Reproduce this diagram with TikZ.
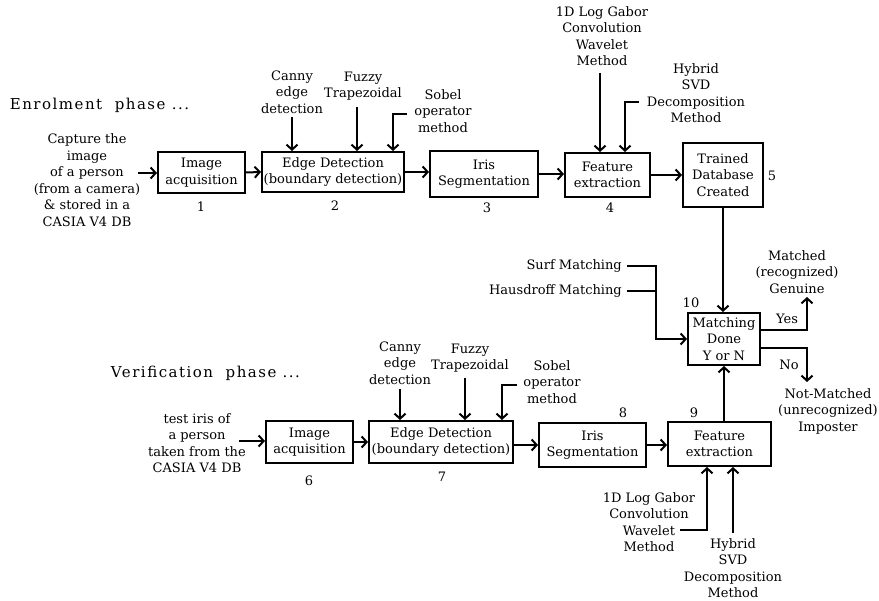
\documentclass[tikz,border=0pt]{standalone}
\usepackage{fontspec}
\setmainfont{DejaVu Serif}
\newfontfamily\phasefont[LetterSpace=10]{DejaVu Serif}
\usetikzlibrary{arrows.meta}
\begin{document}
\begin{tikzpicture}[x=1pt,y=-1pt,
  every node/.style={font=\fontsize{13}{16.5}\selectfont, inner sep=0pt},
  blk/.style={draw, line width=2pt, align=center},
  lbl/.style={align=center},
  num/.style={},
  link/.style={line width=2pt},
  arr/.style={line width=2pt, -{Straight Barb[length=5pt,width=11pt,line width=2pt]}}]
\useasboundingbox (0,0) rectangle (879,601);

% ---------- enrolment phase ----------
\node[font=\phasefont\fontsize{15}{18}\selectfont] (enr) at (99.5,105) {Enrolment\ \ phase ...};

\node[blk, minimum width=87pt, minimum height=41pt] (b1) at (201.5,172.5) {Image\\acquisition};
\node[blk, minimum width=142pt, minimum height=40pt] (b2) at (333,172) {Edge Detection\\(boundary detection)};
\node[blk, minimum width=108pt, minimum height=46pt] (b3) at (484,174) {Iris\\Segmentation};
\node[blk, minimum width=85pt, minimum height=44pt] (b4) at (607.5,175) {Feature\\extraction};
\node[blk, minimum width=80pt, minimum height=64pt] (b5) at (723,175) {Trained\\Database\\Created};

\node[num] (n1) at (201,207) {1};
\node[num] (n2) at (335,206) {2};
\node[num] (n3) at (487,208) {3};
\node[num] (n4) at (610,208) {4};
\node[num] (n5) at (772,176) {5};

\node[lbl] (cap) at (87,180) {Capture the\\image\\of a person\\(from a camera)\\\& stored in a\\CASIA V4 DB};
\node[lbl] (cny1) at (292,92) {Canny\\edge\\detection};
\node[lbl] (fz1) at (363,86) {Fuzzy\\Trapezoidal};
\node[lbl] (sb1) at (443,111) {Sobel\\operator\\method};
\node[lbl] (gb1) at (602,36) {1D Log Gabor\\Convolution\\Wavelet\\Method};
\node[lbl] (hy1) at (696,93) {Hybrid\\SVD\\Decomposition\\Method};

\coordinate (capo) at (138,173);
\coordinate (cny1o) at (292,117);
\coordinate (fz1o) at (357,107);
\coordinate (sb1o) at (407,114);
\coordinate (sb1k) at (393,114);
\coordinate (gb1o) at (600,73);
\coordinate (hy1o) at (639,102);
\coordinate (hy1k) at (625,102);

\draw[arr] (capo) -- (capo -| b1.west);
\draw[arr] (b1.east) -- (b2.west);
\draw[arr] (b2.east) -- (b2.east -| b3.west);
\draw[arr] (b3.east) -- (b3.east -| b4.west);
\draw[arr] (b4.east) -- (b4.east -| b5.west);
\draw[arr] (cny1o) -- (cny1o |- b2.north);
\draw[arr] (fz1o) -- (fz1o |- b2.north);
\draw[arr] (sb1o) -- (sb1k) -- (sb1k |- b2.north);
\draw[arr] (gb1o) -- (gb1o |- b4.north);
\draw[arr] (hy1o) -- (hy1k) -- (hy1k |- b4.north);

% ---------- matching ----------
\node[blk, minimum width=72pt, minimum height=52pt] (b10) at (724,339) {Matching\\Done\\Y or N};
\node[num] (n10) at (691,303) {10};
\node[lbl, anchor=east] (surf) at (622,266) {Surf Matching};
\node[lbl, anchor=east] (haus) at (622,291) {Hausdroff Matching};
\node[lbl] (mt) at (797,272) {Matched\\(recognized)\\Genuine};
\node[lbl] (nmt) at (828,411) {Not-Matched\\(unrecognized)\\Imposter};
\node[lbl] (yes) at (787,319) {Yes};
\node[lbl] (no) at (789,365) {No};

\coordinate (surfo) at (627,266);
\coordinate (hauso) at (627,291);
\coordinate (mk) at (656,266);
\coordinate (mj) at (656,291);
\coordinate (yk) at (807,330);
\coordinate (yend) at (807,297);
\coordinate (nk) at (807,348);
\coordinate (nend) at (807,382);

\draw[arr] (b5.south) -- (b5.south |- b10.north);
\draw[link] (surfo) -- (mk) -- (mj);
\draw[link] (hauso) -- (mj);
\draw[arr] (mk) -- (mk |- b10.west) -- (b10.west);
\draw[arr] ([yshift=9pt]b10.east) -- (yk) -- (yend);
\draw[arr] ([yshift=-9pt]b10.east) -- (nk) -- (nend);

% ---------- verification phase ----------
\node[font=\phasefont\fontsize{15}{18}\selectfont] (ver) at (205.5,373) {Verification\ \ phase ...};

\node[blk, minimum width=87pt, minimum height=42pt] (b6) at (309.5,442) {Image\\acquisition};
\node[blk, minimum width=144pt, minimum height=42pt] (b7) at (441,442) {Edge Detection\\(boundary detection)};
\node[blk, minimum width=107pt, minimum height=44pt] (b8) at (592.5,445) {Iris\\Segmentation};
\node[blk, minimum width=103pt, minimum height=44pt] (b9) at (719.5,444) {Feature\\extraction};

\node[num] (n6) at (309,481) {6};
\node[num] (n7) at (442,477) {7};
\node[num] (n8) at (623,413) {8};
\node[num] (n9) at (694,413) {9};

\node[lbl] (tst) at (197,443) {test iris of\\a person\\taken from the\\CASIA V4 DB};
\node[lbl] (cny2) at (400,363) {Canny\\edge\\detection};
\node[lbl] (fz2) at (470,358) {Fuzzy\\Trapezoidal};
\node[lbl] (sb2) at (552,382) {Sobel\\operator\\method};
\node[lbl] (gb2) at (649,522) {1D Log Gabor\\Convolution\\Wavelet\\Method};
\node[lbl] (hy2) at (733,568) {Hybrid\\SVD\\Decomposition\\Method};

\coordinate (tsto) at (239,441);
\coordinate (cny2o) at (400,389);
\coordinate (fz2o) at (465,378);
\coordinate (sb2o) at (517,385);
\coordinate (sb2k) at (502,385);
\coordinate (gb2o) at (680,530);
\coordinate (gb2k) at (707,530);
\coordinate (hy2o) at (733,533);

\draw[arr] (tsto) -- (tsto -| b6.west);
\draw[arr] (b6.east) -- (b7.west);
\draw[arr] ([yshift=-3pt]b7.east) -- ([yshift=-3pt]b7.east -| b8.west);
\draw[arr] (b8.east) -- (b8.east -| b9.west);
\draw[arr] (cny2o) -- (cny2o |- b7.north);
\draw[arr] (fz2o) -- (fz2o |- b7.north);
\draw[arr] (sb2o) -- (sb2k) -- (sb2k |- b7.north);
\draw[arr] (gb2o) -- (gb2k) -- (gb2k |- b9.south);
\draw[arr] (hy2o) -- (hy2o |- b9.south);
\draw[arr] (b9.north -| b10.south) -- (b10.south);
\end{tikzpicture}
\end{document}
